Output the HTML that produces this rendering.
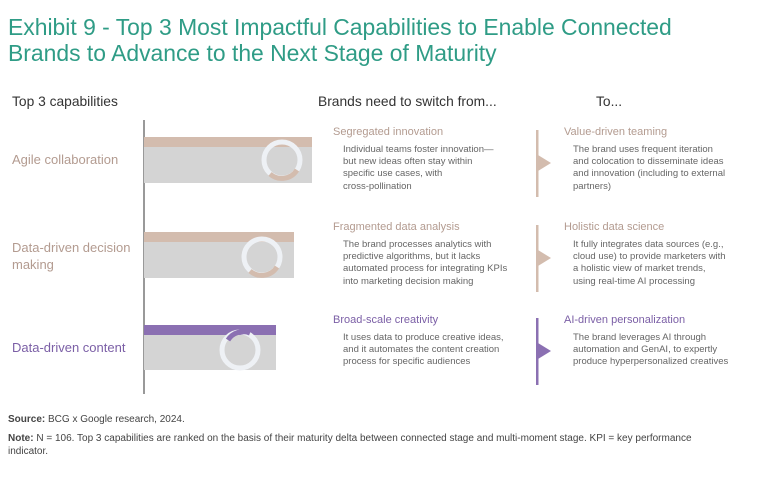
<!DOCTYPE html>
<html><head><meta charset="utf-8"><style>
body{margin:0;width:768px;height:480px;background:#fff;font-family:"Liberation Sans",sans-serif;position:relative;overflow:hidden}
div,span{position:absolute}
.t{left:8px;color:#2f9c86;font-size:22.9px;white-space:nowrap}
.h{top:94px;font-size:13.8px;color:#333}
.lab{left:12px;font-size:13px;line-height:17px}
.hd{font-size:11px;white-space:nowrap}
.bd{font-size:9.5px;color:#666;line-height:12.2px;white-space:nowrap}
.g{background:#d4d4d4}
.br{color:#b39b90}.pu{color:#7b5fa6}
</style></head><body>
<div class="t" style="top:14px">Exhibit 9 - Top 3 Most Impactful Capabilities to Enable Connected</div>
<div class="t" style="top:40px">Brands to Advance to the Next Stage of Maturity</div>
<div class="h" style="left:12px">Top 3 capabilities</div>
<div class="h" style="left:318px">Brands need to switch from...</div>
<div class="h" style="left:596px">To...</div>
<div style="left:143px;top:120px;width:1.5px;height:274px;background:#999"></div>

<div class="lab br" style="top:151px">Agile collaboration</div>
<div class="lab br" style="top:239px">Data-driven decision<br>making</div>
<div class="lab pu" style="top:339px">Data-driven content</div>

<div style="left:144px;top:137px;width:168px;height:10px;background:#d3bcae"></div>
<div class="g" style="left:144px;top:147px;width:168px;height:36px"></div>
<div style="left:144px;top:232px;width:150px;height:10px;background:#d3bcae"></div>
<div class="g" style="left:144px;top:242px;width:150px;height:36px"></div>
<div style="left:144px;top:325px;width:132px;height:10px;background:#8b70b2"></div>
<div class="g" style="left:144px;top:335px;width:132px;height:35px"></div>

<svg style="position:absolute;left:0;top:0" width="768" height="480">
<g fill="none" stroke-width="5">
<circle cx="282" cy="160" r="18" stroke="#eef1f5"/><path d="M297 170 A18 18 0 0 1 270 174" stroke="#d3bcae"/>
<circle cx="262" cy="257" r="18" stroke="#eef1f5"/><path d="M277 267 A18 18 0 0 1 250 271" stroke="#d3bcae"/>
<circle cx="240" cy="350" r="18" stroke="#eef1f5"/><path d="M228 340 A18 18 0 0 1 250 333" stroke="#8b70b2"/>
</g>
<rect x="536" y="130" width="2.5" height="67" fill="#d3bcae"/><polygon points="538,155 551,163 538,171" fill="#d3bcae"/>
<rect x="536" y="225" width="2.5" height="67" fill="#d3bcae"/><polygon points="538,250 551,258 538,266" fill="#d3bcae"/>
<rect x="536" y="318" width="2.5" height="67" fill="#8b70b2"/><polygon points="538,343 551,351 538,359" fill="#8b70b2"/>
</svg>

<div class="hd br" style="left:333px;top:126px">Segregated innovation</div>
<div class="bd" style="left:343px;top:144px">Individual teams foster innovation—<br>but new ideas often stay within<br>specific use cases, with<br>cross-pollination</div>
<div class="hd br" style="left:333px;top:221px">Fragmented data analysis</div>
<div class="bd" style="left:343px;top:239px">The brand processes analytics with<br>predictive algorithms, but it lacks<br>automated process for integrating KPIs<br>into marketing decision making</div>
<div class="hd pu" style="left:333px;top:314px">Broad-scale creativity</div>
<div class="bd" style="left:343px;top:332px">It uses data to produce creative ideas,<br>and it automates the content creation<br>process for specific audiences</div>

<div class="hd br" style="left:564px;top:126px">Value-driven teaming</div>
<div class="bd" style="left:573px;top:144px">The brand uses frequent iteration<br>and colocation to disseminate ideas<br>and innovation (including to external<br>partners)</div>
<div class="hd br" style="left:564px;top:221px">Holistic data science</div>
<div class="bd" style="left:573px;top:239px">It fully integrates data sources (e.g.,<br>cloud use) to provide marketers with<br>a holistic view of market trends,<br>using real-time AI processing</div>
<div class="hd pu" style="left:564px;top:314px">AI-driven personalization</div>
<div class="bd" style="left:573px;top:332px">The brand leverages AI through<br>automation and GenAI, to expertly<br>produce hyperpersonalized creatives</div>

<div style="left:8px;top:414px;font-size:10px;color:#444"><b>Source:</b> BCG x Google research, 2024.</div>
<div style="left:8px;top:433px;font-size:10px;color:#444;line-height:12.5px;width:725px"><b>Note:</b> N = 106. Top 3 capabilities are ranked on the basis of their maturity delta between connected stage and multi-moment stage. KPI = key performance<br>indicator.</div>
</body></html>
